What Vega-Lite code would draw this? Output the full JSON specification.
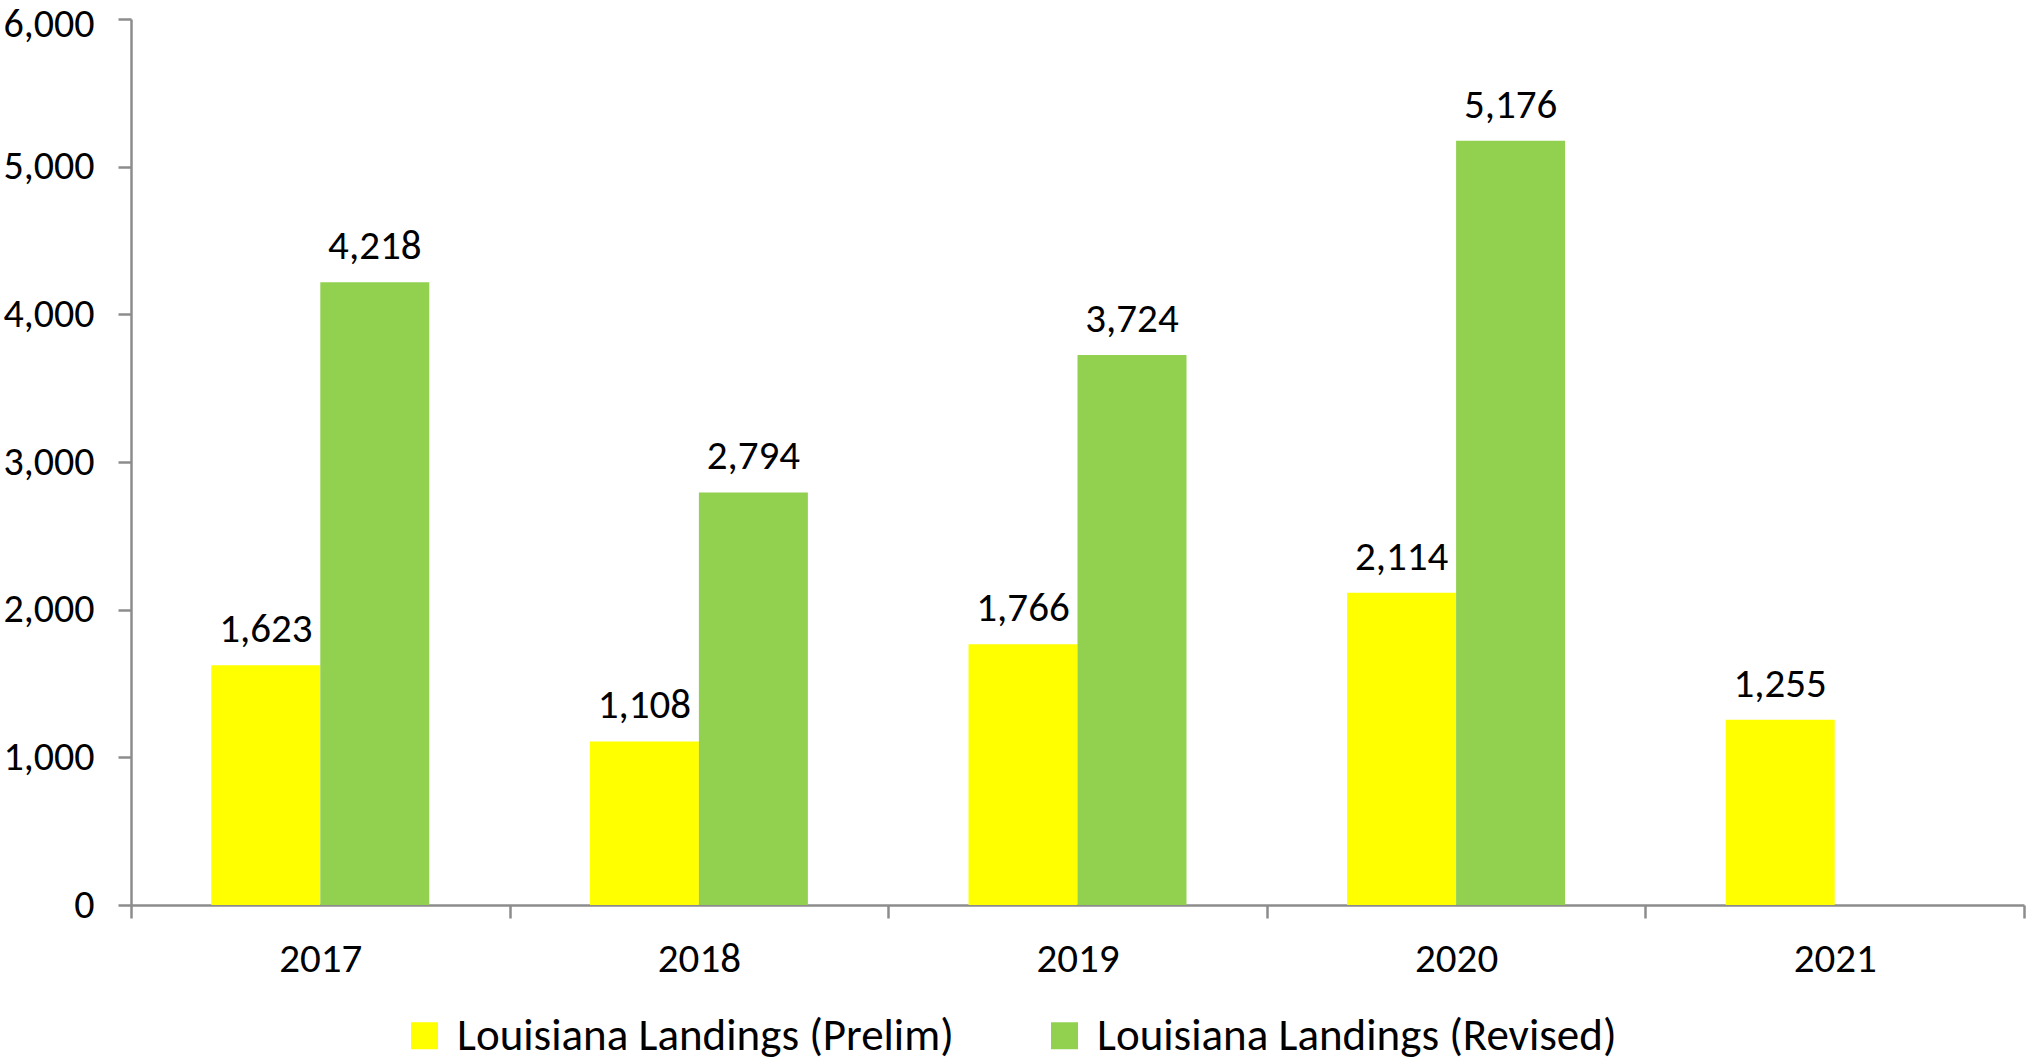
{
  "$schema": "https://vega.github.io/schema/vega-lite/v6.json",
  "width": 1893,
  "height": 886,
  "autosize": {"type": "none"},
  "padding": {"left": 131, "top": 19, "right": 4, "bottom": 157},
  "background": "white",
  "config": {
    "view": {"stroke": null},
    "font": "Carlito, Lato",
    "axis": {"labelFont": "Carlito, Lato", "labelColor": "#000000", "domainColor": "#8c8c8c", "tickColor": "#8c8c8c", "domainWidth": 2.5, "tickWidth": 2.5, "tickSize": 13, "grid": false, "title": null},
    "legend": {"labelFont": "Carlito, Lato"}
  },
  "data": {
    "values": [
      {"year": "2017", "series": "Louisiana Landings (Prelim)", "value": 1623},
      {"year": "2017", "series": "Louisiana Landings (Revised)", "value": 4218},
      {"year": "2018", "series": "Louisiana Landings (Prelim)", "value": 1108},
      {"year": "2018", "series": "Louisiana Landings (Revised)", "value": 2794},
      {"year": "2019", "series": "Louisiana Landings (Prelim)", "value": 1766},
      {"year": "2019", "series": "Louisiana Landings (Revised)", "value": 3724},
      {"year": "2020", "series": "Louisiana Landings (Prelim)", "value": 2114},
      {"year": "2020", "series": "Louisiana Landings (Revised)", "value": 5176},
      {"year": "2021", "series": "Louisiana Landings (Prelim)", "value": 1255}
    ]
  },
  "encoding": {
    "x": {
      "field": "year", "type": "nominal",
      "scale": {"paddingInner": 0, "paddingOuter": 0},
      "axis": {"labelAngle": 0, "labelFontSize": 41, "labelPadding": 21, "tickBand": "extent", "ticks": true}
    },
    "xOffset": {
      "field": "series", "type": "nominal",
      "scale": {"domain": ["Louisiana Landings (Prelim)", "Louisiana Landings (Revised)"], "paddingInner": 0, "paddingOuter": 0.737}
    },
    "y": {
      "field": "value", "type": "quantitative",
      "scale": {"domain": [0, 6000], "nice": false},
      "axis": {
        "values": [0, 1000, 2000, 3000, 4000, 5000, 6000],
        "labelExpr": "format(datum.value, ',.0f')",
        "labelFontSize": 40,
        "labelPadding": 24,
        "labelOffset": {"condition": {"test": "datum.value === 6000", "value": 5}, "value": 0}
      }
    }
  },
  "layer": [
    {
      "mark": {"type": "bar"},
      "encoding": {
        "color": {
          "field": "series", "type": "nominal",
          "scale": {"domain": ["Louisiana Landings (Prelim)", "Louisiana Landings (Revised)"], "range": ["#FFFF00", "#92D050"]},
          "legend": {
            "title": null, "orient": "none", "legendX": 271, "legendY": 994,
            "direction": "horizontal", "columns": 2,
            "symbolType": "square", "symbolSize": 729, "symbolStrokeWidth": 0, "symbolOpacity": 1,
            "labelFontSize": 45, "labelColor": "#000000", "labelOffset": 10, "labelLimit": 800,
            "columnPadding": 88
          }
        }
      }
    },
    {
      "mark": {"type": "text", "baseline": "alphabetic", "dy": -23, "fontSize": 41, "color": "#000000"},
      "encoding": {
        "text": {"field": "value", "type": "quantitative", "format": ",.0f"}
      }
    }
  ]
}
